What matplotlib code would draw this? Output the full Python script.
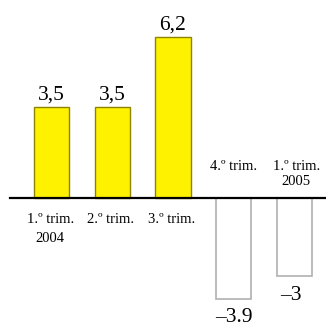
import matplotlib.pyplot as plt
import numpy as np

# Quarterly change, 2004-2005
quarters = ["1.º trim.\n2004", "2.º trim.", "3.º trim.", "4.º trim.", "1.º trim.\n2005"]
values = [3.5, 3.5, 6.2, -3.9, -3.0]
value_labels = ["3,5", "3,5", "6,2", "\u20133.9", "\u20133"]

plt.rcParams['font.family'] = ['Liberation Serif', 'DejaVu Serif']

fig = plt.figure(figsize=(3.26, 3.26), dpi=100)
ax = fig.add_axes([0, 0, 1, 1])

x = np.arange(len(values))
for xi, v in zip(x, values):
    if v >= 0:
        ax.bar(xi, v, width=0.58, color="#fff200", edgecolor="#8c8400", linewidth=1.0, zorder=2)
    else:
        ax.bar(xi, v, width=0.58, color="white", edgecolor="#b0b0b0", linewidth=1.2, zorder=2)

# baseline
ax.plot([-0.68, 4.6], [0, 0], color="black", linewidth=1.6, zorder=3)

for xi, v, lab, q in zip(x, values, value_labels, quarters):
    if v >= 0:
        ax.text(xi, v + 0.1, lab, ha="center", va="bottom", fontsize=15.5)
        ax.text(xi - 0.02, -0.58, q, ha="center", va="top", fontsize=10.5, linespacing=1.55)
    else:
        ax.text(xi - (0.06 if v > -3.5 else 0), v - 0.4 if v > -3.5 else v - 0.33,
                lab, ha="center", va="top", fontsize=15.5)
        ax.text(xi + (0.03 if "\n" in q else 0), 1.47, q, ha="center", va="top",
                fontsize=10.5, linespacing=1.2)

ax.set_xlim(-0.848, 4.519)
ax.set_ylim(-4.92, 7.615)
ax.axis("off")

fig.savefig("out.png", dpi=100)
